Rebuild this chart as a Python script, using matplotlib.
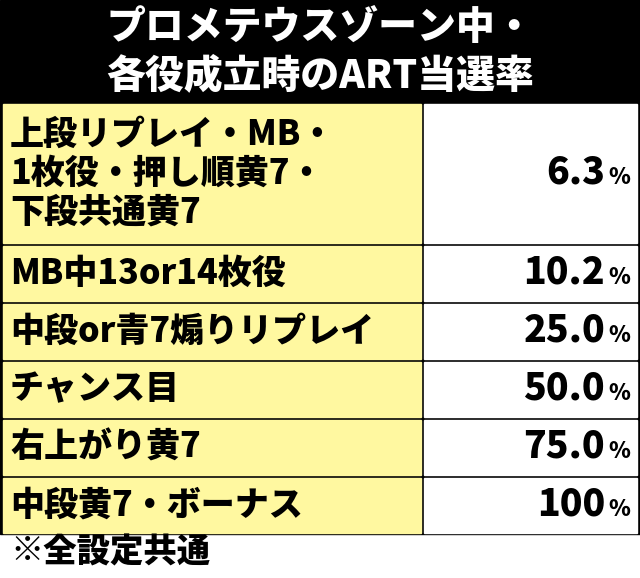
import matplotlib.pyplot as plt
from matplotlib.patches import Rectangle

plt.rcParams['font.family'] = ['Noto Sans CJK JP', 'DejaVu Sans']

title_lines = ["プロメテウスゾーン中・", "各役成立時のART当選率"]
labels = ["上段リプレイ・MB・\n1枚役・押し順黄7・\n下段共通黄7",
          "MB中13or14枚役", "中段or青7煽りリプレイ", "チャンス目",
          "右上がり黄7", "中段黄7・ボーナス"]
values = ["6.3", "10.2", "25.0", "50.0", "75.0", "100"]
row_edges = [102, 244, 302, 360, 418, 476, 534]
note = "※全設定共通"

fig = plt.figure(figsize=(6.4, 5.78), dpi=100)
ax = fig.add_axes([0, 0, 1, 1])
ax.set_xlim(0, 640)
ax.set_ylim(578, 0)
ax.axis('off')

# header
ax.add_patch(Rectangle((0, 0), 640, row_edges[0], color='black'))
ax.text(320, 27, title_lines[0], color='white', fontsize=28, fontweight='heavy', ha='center', va='center')
ax.text(320, 75, title_lines[1], color='white', fontsize=28, fontweight='heavy', ha='center', va='center')

# table body
ax.add_patch(Rectangle((0, row_edges[0]), 640, row_edges[-1] - row_edges[0], color='black'))
split = 422
for i, (lab, val) in enumerate(zip(labels, values)):
    top, bot = row_edges[i] + 1.5, row_edges[i + 1] - 1.5
    ax.add_patch(Rectangle((3, top), split - 4.5, bot - top, color='#fff8a0'))
    ax.add_patch(Rectangle((split + 1.5, top), 640 - split - 4.5, bot - top, color='white'))
    mid = (top + bot) / 2
    ax.text(10, mid, lab, fontsize=24.5, fontweight='heavy', ha='left', va='center', linespacing=1.15)
    ax.text(605, mid, val, fontsize=27, fontweight='heavy', ha='right', va='center')
    ax.text(630, mid + 5, "%", fontsize=16, fontweight='heavy', ha='right', va='center')

ax.text(10, 552, note, fontsize=24, fontweight='heavy', ha='left', va='center')

fig.savefig('out.png', dpi=100, facecolor='white')
